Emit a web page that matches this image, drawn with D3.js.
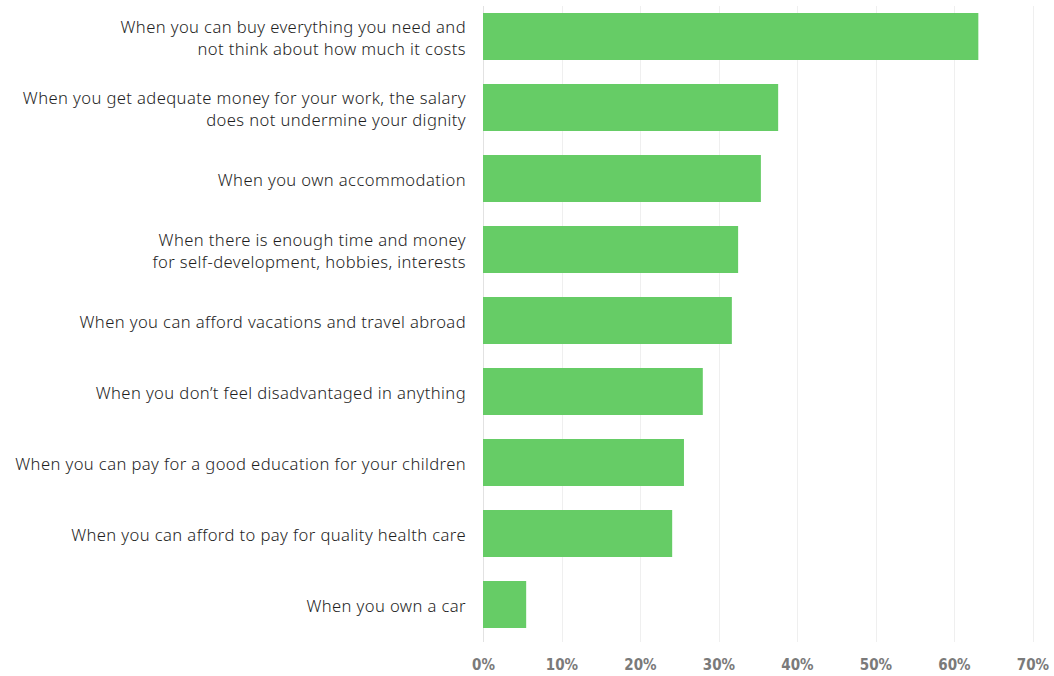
<!DOCTYPE html>
<html>
<head>
<meta charset="utf-8">
<script src="https://cdn.jsdelivr.net/npm/d3@7"></script>
<style>
  html, body { margin: 0; padding: 0; background: #fff; }
  svg { display: block; }
</style>
</head>
<body>
<svg id="chart" width="1054" height="676"></svg>
<script>
// Survey answers: what "being well-off" means
const categories = [
  ["When you can buy everything you need and", "not think about how much it costs"],
  ["When you get adequate money for your work, the salary", "does not undermine your dignity"],
  ["When you own accommodation"],
  ["When there is enough time and money", "for self-development, hobbies, interests"],
  ["When you can afford vacations and travel abroad"],
  ["When you don’t feel disadvantaged in anything"],
  ["When you can pay for a good education for your children"],
  ["When you can afford to pay for quality health care"],
  ["When you own a car"]
];
const shares = [63.1, 37.6, 35.4, 32.5, 31.7, 28.0, 25.6, 24.1, 5.5];
const tickValues = [0, 10, 20, 30, 40, 50, 60, 70];

const svg = d3.select("#chart");
const plotTop = 6, plotBottom = 642;

const x = d3.scaleLinear().domain([0, 70]).range([483, 1032.5]);
const y = d3.scaleBand()
  .domain(d3.range(categories.length))
  .range([13, 628])
  .paddingInner(0.338)
  .paddingOuter(0);

// Vertical gridlines
svg.append("g")
  .selectAll("line")
  .data(tickValues)
  .join("line")
  .attr("x1", d => Math.round(x(d)) + 0.5)
  .attr("x2", d => Math.round(x(d)) + 0.5)
  .attr("y1", plotTop)
  .attr("y2", plotBottom)
  .attr("stroke", d => d === 0 ? "#e2e2e2" : "#efefef")
  .attr("stroke-width", 1);

// Bars
svg.append("g")
  .selectAll("rect")
  .data(shares)
  .join("rect")
  .attr("x", x(0))
  .attr("y", (d, i) => y(i))
  .attr("width", d => x(d) - x(0))
  .attr("height", y.bandwidth())
  .attr("fill", "#66cc66");

// Category labels (right-aligned, possibly two lines)
const labelFont = "'Noto Sans', 'Open Sans', sans-serif";
const lbl = svg.append("g")
  .selectAll("text")
  .data(categories)
  .join("text")
  .attr("text-anchor", "end")
  .attr("font-family", labelFont)
  .attr("font-size", 16.6)
  .attr("font-weight", 300)
  .attr("letter-spacing", 0.4)
  .attr("fill", "#1e1e1e")
  .attr("transform", (d, i) => `translate(466, ${y(i) + y.bandwidth() / 2 + 1.5})`);

lbl.selectAll("tspan")
  .data(d => d.map((t, k) => ({ t, k, n: d.length })))
  .join("tspan")
  .attr("x", 0)
  .attr("y", d => (d.k - (d.n - 1) / 2) * 22.5)
  .attr("dy", "0.35em")
  .text(d => d.t);

// Bottom axis tick labels
const axis = d3.axisBottom(x)
  .tickValues(tickValues)
  .tickFormat(d => d + "%")
  .tickSize(0)
  .tickPadding(0);

const gAxis = svg.append("g")
  .attr("transform", "translate(0, 659)")
  .call(axis);
gAxis.select(".domain").remove();
gAxis.selectAll("text")
  .attr("font-family", "'DejaVu Sans Condensed', 'Liberation Sans Narrow', 'Roboto', sans-serif")
  .attr("font-weight", "bold")
  .attr("font-size", 15)
  .attr("fill", "#7a7a7a");
</script>
</body>
</html>
